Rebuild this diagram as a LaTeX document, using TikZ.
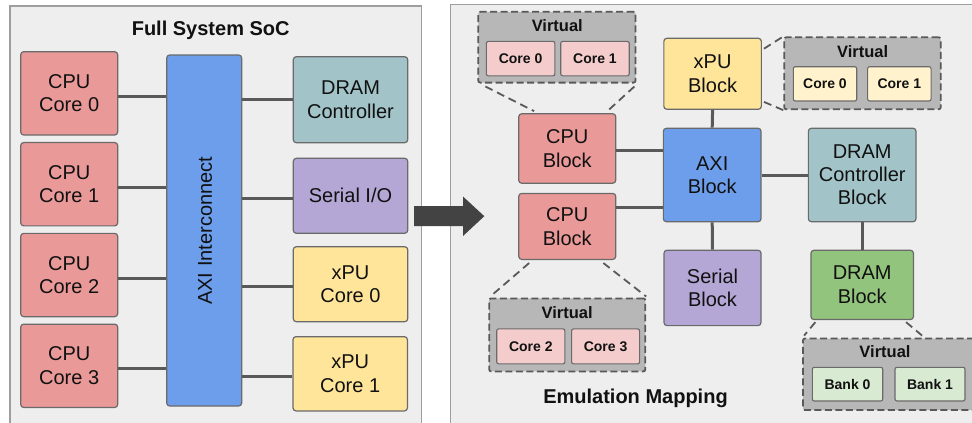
\documentclass[tikz,border=0pt]{standalone}
\usepackage{fontspec}
\setmainfont{Liberation Sans}
\usetikzlibrary{calc}

\definecolor{cpuRed}{HTML}{EA9999}
\definecolor{axiBlue}{HTML}{6D9EEB}
\definecolor{dramTeal}{HTML}{A2C4C9}
\definecolor{serPurple}{HTML}{B4A7D6}
\definecolor{xpuYellow}{HTML}{FFE599}
\definecolor{dramGreen}{HTML}{93C47D}
\definecolor{cellRed}{HTML}{F4CCCC}
\definecolor{cellYellow}{HTML}{FFF2CC}
\definecolor{cellGreen}{HTML}{D9EAD3}
\definecolor{groupGray}{HTML}{B7B7B7}
\definecolor{panelGray}{HTML}{EEEEEE}
\definecolor{panelEdge}{HTML}{9E9E9E}
\definecolor{lineGray}{HTML}{595959}
\definecolor{edgeGray}{HTML}{6A6A6A}
\definecolor{arrowGray}{HTML}{434343}
\definecolor{inkBlack}{HTML}{111111}

\begin{document}
\begin{tikzpicture}[x=1pt,y=-1pt,
  text=inkBlack,
  blk/.style={draw=edgeGray, line width=1.2pt, rounded corners=3pt, inner sep=0pt,
              align=center, font=\fontsize{20}{23.5}\selectfont},
  vgroup/.style={draw=lineGray, fill=groupGray, dash pattern=on 7pt off 3.5pt,
                 line width=1.8pt, rounded corners=2pt, inner sep=0pt},
  vcell/.style={draw=edgeGray, line width=1.1pt, rounded corners=2pt, inner sep=0pt,
                font=\bfseries\fontsize{14}{16}\selectfont},
  vtitle/.style={anchor=base, inner sep=0pt, font=\bfseries\fontsize{16.5}{19}\selectfont},
  link/.style={draw=lineGray, line width=3pt},
  vlink/.style={draw=lineGray, line width=1.8pt, dash pattern=on 8pt off 5pt},
  panel/.style={draw=panelEdge, fill=panelGray, line width=1.2pt, inner sep=0pt},
  ptitle/.style={anchor=base, inner sep=0pt, font=\bfseries\fontsize{20}{24}\selectfont}
]
\useasboundingbox (0,0) rectangle (972,423);
\clip (0,0) rectangle (972,423);

% ---------- panels ----------
\node[panel, minimum width=411.7pt, minimum height=440pt] (socpanel) at (215.85,226) {};
\node[panel, minimum width=540pt, minimum height=440pt] (emupanel) at (720.2,224.75) {};

% ---------- full system SoC ----------
\node[ptitle] (soctitle) at (210.7,35) {Full System SoC};

\node[blk, fill=cpuRed, minimum width=97pt, minimum height=83.3pt] (cpu0) at (69.2,93.35) {CPU\\Core 0};
\node[blk, fill=cpuRed, minimum width=97pt, minimum height=83.3pt] (cpu1) at (69.2,184.2) {CPU\\Core 1};
\node[blk, fill=cpuRed, minimum width=97pt, minimum height=83.3pt] (cpu2) at (69.2,275) {CPU\\Core 2};
\node[blk, fill=cpuRed, minimum width=97pt, minimum height=83.3pt] (cpu3) at (69.2,365.8) {CPU\\Core 3};

\node[blk, fill=axiBlue, minimum width=75pt, minimum height=351pt] (axi) at (204.2,230.5) {};
\node[rotate=90, inner sep=0pt, font=\fontsize{20}{24}\selectfont] (axilbl) at (205,230.8) {AXI Interconnect};

\node[blk, fill=dramTeal, minimum width=114.4pt, minimum height=86pt] (dramc) at (350.5,99.7) {DRAM\\Controller};
\node[blk, fill=serPurple, minimum width=114.4pt, minimum height=75pt] (serio) at (350.5,195.8) {Serial I/O};
\node[blk, fill=xpuYellow, minimum width=114.4pt, minimum height=75pt] (xpu0) at (350.5,284.2) {xPU\\Core 0};
\node[blk, fill=xpuYellow, minimum width=114.4pt, minimum height=74.3pt] (xpu1) at (350.2,373.8) {xPU\\Core 1};

\foreach \c in {cpu0,cpu1,cpu2,cpu3}
  \draw[link] ([yshift=-3pt]\c.east) -- ([yshift=-3pt]\c.east -| axi.west);
\draw[link] (dramc.west -| axi.east) -- (dramc.west);
\foreach \p in {serio,xpu0,xpu1}
  \draw[link] ([yshift=-2.7pt]\p.west -| axi.east) -- ([yshift=-2.7pt]\p.west);

% ---------- mapping arrow ----------
\fill[arrowGray] (414,206.2) -- (463,206.2) -- (463,196.5) -- (484.3,216.2)
  -- (463,236) -- (463,226.2) -- (414,226.2) -- cycle;

% ---------- emulation mapping ----------
\node[ptitle] (emutitle) at (635.5,403.3) {Emulation Mapping};

\node[blk, fill=cpuRed, minimum width=97pt, minimum height=69.5pt] (cb1) at (567.25,148.5) {CPU\\Block};
\node[blk, fill=cpuRed, minimum width=97pt, minimum height=66pt] (cb2) at (567.25,226.4) {CPU\\Block};
\node[blk, fill=xpuYellow, minimum width=97.5pt, minimum height=71pt] (xpub) at (712.6,73.8) {xPU\\Block};
\node[blk, fill=axiBlue, minimum width=97.7pt, minimum height=93.4pt] (axib) at (712.2,175) {AXI\\Block};
\node[blk, fill=serPurple, minimum width=97pt, minimum height=75.4pt] (serb) at (712.5,287.9) {Serial\\Block};
\node[blk, fill=dramTeal, minimum width=107.7pt, minimum height=93.4pt, font=\fontsize{20}{23}\selectfont] (dcb) at (862.2,175) {DRAM\\Controller\\Block};
\node[blk, fill=dramGreen, minimum width=102.5pt, minimum height=69.3pt] (dbb) at (862.2,284.9) {DRAM\\Block};

% virtual groups
\node[vgroup, minimum width=157.2pt, minimum height=70.8pt] (vgA) at (556.9,47.2) {};
\node[vtitle] (vgAt) at (557.3,31) {Virtual};
\node[vcell, fill=cellRed, minimum width=68.5pt, minimum height=34.5pt] (a0) at (520.6,58.6) {Core 0};
\node[vcell, fill=cellRed, minimum width=68.5pt, minimum height=34.5pt] (a1) at (595,58.6) {Core 1};

\node[vgroup, minimum width=156.4pt, minimum height=72pt] (vgB) at (862.5,73.3) {};
\node[vtitle] (vgBt) at (862.7,57.3) {Virtual};
\node[vcell, fill=cellYellow, minimum width=63.4pt, minimum height=34.3pt] (b0) at (825,83.85) {Core 0};
\node[vcell, fill=cellYellow, minimum width=63.4pt, minimum height=34.3pt] (b1) at (899.35,83.85) {Core 1};

\node[vgroup, minimum width=156.1pt, minimum height=73pt] (vgC) at (567.25,334.9) {};
\node[vtitle] (vgCt) at (567.2,318.8) {Virtual};
\node[vcell, fill=cellRed, minimum width=68.2pt, minimum height=35pt] (c2) at (530.8,346.4) {Core 2};
\node[vcell, fill=cellRed, minimum width=68pt, minimum height=35pt] (c3) at (605.6,346.4) {Core 3};

\node[vgroup, minimum width=173pt, minimum height=71.5pt] (vgD) at (889.5,374.25) {};
\node[vtitle] (vgDt) at (885,357.3) {Virtual};
\node[vcell, fill=cellGreen, minimum width=70.4pt, minimum height=33.7pt] (d0) at (847.5,384.15) {Bank 0};
\node[vcell, fill=cellGreen, minimum width=70pt, minimum height=33.7pt] (d1) at (930,384.15) {Bank 1};

% block interconnect
\coordinate (j1) at ($(axib.west)+(0,-25)$);
\coordinate (j2) at ($(axib.west)+(0,32.7)$);
\draw[link] (j1 -| cb1.east) -- (j1);
\draw[link] (j2 -| cb2.east) -- (j2);
\draw[link] (xpub.south) -- (axib.north);
\draw[link] (axib.south) -- (serb.north);
\draw[link] (axib.east) -- (dcb.west);
\draw[link] (dcb.south) -- (dbb.north);

% virtualisation callouts
\draw[vlink] ([shift={(8,3)}]vgA.south west) -- ([shift={(16,-2)}]cb1.north west);
\draw[vlink] ([shift={(-2,3)}]vgA.south east) -- ([shift={(-9,-2)}]cb1.north east);
\draw[vlink] ([shift={(11,3)}]cb2.south west) -- ([shift={(2,-1)}]vgC.north west);
\draw[vlink] ([shift={(-13,3)}]cb2.south east) -- ([shift={(0,-1)}]vgC.north east);
\draw[vlink] ([shift={(2,11)}]xpub.north east) -- (vgB.north west);
\draw[vlink] ([shift={(2,-8)}]xpub.south east) -- (vgB.south west);
\draw[vlink] ([shift={(5,2)}]dbb.south west) -- ([shift={(2,-2)}]vgD.north west);
\draw[vlink] ([shift={(-8,2)}]dbb.south east) -- ([shift={(120,-2)}]vgD.north west);
\end{tikzpicture}
\end{document}
